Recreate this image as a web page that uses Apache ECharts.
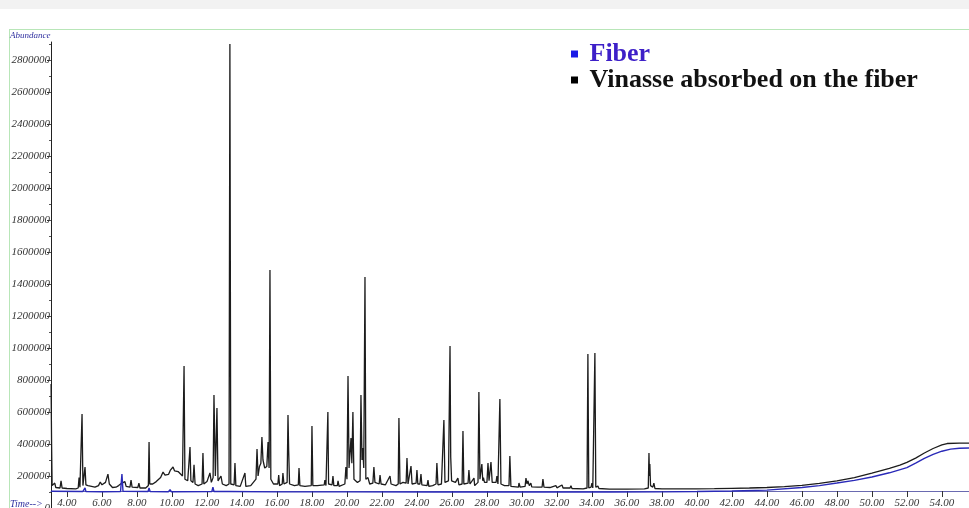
<!DOCTYPE html>
<html>
<head>
<meta charset="utf-8">
<script src="https://cdn.jsdelivr.net/npm/echarts@6/dist/echarts.min.js"></script>
<style>
html,body{margin:0;padding:0;background:#ffffff;}
#top{position:absolute;left:0;top:0;width:969px;height:9px;background:#f2f2f2;}
#chart{position:absolute;left:0;top:0;width:969px;height:508px;}
</style>
</head>
<body>
<div id="top"></div>
<div id="chart"></div>
<script>
// Retention time ticks (min)
const timeTicks = [4,6,8,10,12,14,16,18,20,22,24,26,28,30,32,34,36,38,40,42,44,46,48,50,52,54];
const abundanceTicks = [0,200000,400000,600000,800000,1000000,1200000,1400000,1600000,1800000,2000000,2200000,2400000,2600000,2800000];
const seriesNames = ['Fiber', 'Vinasse absorbed on the fiber'];

// Fiber chromatogram [time, abundance]
const fiber = [
  [3.09,105000],[4.9,103000],[4.98,104000],[5.03,125000],[5.08,103000],[6.0,102000],
  [7.06,103000],[7.14,212000],[7.2,105000],[8.63,103000],[8.69,125000],[8.75,103000],
  [9.8,102000],[9.89,115000],[9.96,102000],[12.28,103000],[12.34,131000],[12.4,103000],
  [13.25,103000],[13.3,112000],[13.36,102000],[16.0,101000],[20.0,101000],[25.0,100000],
  [30.0,100000],[35.0,100000],[38.0,101000],[40.0,103000],[42.0,106000],[44.0,112000],
  [46.0,128000],[47.0,140000],[48.0,156000],[49.0,173000],[50.0,194000],[51.0,220000],
  [52.0,252000],[52.5,280000],[53.0,310000],[53.5,335000],[54.0,355000],[54.5,368000],
  [55.0,373000],[55.55,375000]
];

// Vinasse absorbed on the fiber chromatogram [time, abundance]
const vinasse = [
  [3.09,775000],[3.12,400000],[3.15,140000],[3.25,130000],[3.3,156000],[3.36,128000],
  [3.6,125000],[3.66,170000],[3.72,125000],[4.0,122000],[4.5,120000],[4.64,125000],
  [4.69,190000],[4.74,130000],[4.82,135000],[4.86,587000],[4.91,140000],[4.97,150000],
  [5.03,256000],[5.08,145000],[5.2,140000],[5.4,135000],[5.6,130000],[5.8,140000],
  [5.9,162000],[6.0,145000],[6.2,160000],[6.34,212000],[6.42,150000],[6.6,128000],
  [6.8,130000],[6.95,140000],[7.14,156000],[7.22,145000],[7.31,165000],[7.38,135000],
  [7.6,130000],[7.66,175000],[7.72,130000],[8.05,128000],[8.11,156000],[8.17,125000],
  [8.5,125000],[8.65,140000],[8.69,412000],[8.73,150000],[8.9,150000],[9.1,165000],
  [9.2,175000],[9.35,190000],[9.49,225000],[9.6,205000],[9.8,210000],[9.9,235000],
  [10.06,256000],[10.15,232000],[10.25,240000],[10.35,228000],[10.46,237000],[10.6,200000],
  [10.66,190000],[10.69,887000],[10.74,180000],[10.9,170000],[11.0,175000],[11.03,381000],
  [11.08,170000],[11.2,160000],[11.26,270000],[11.32,150000],[11.5,140000],[11.72,150000],
  [11.77,344000],[11.82,150000],[12.0,165000],[12.17,219000],[12.25,160000],[12.35,190000],
  [12.4,706000],[12.48,200000],[12.57,625000],[12.63,170000],[12.8,200000],[12.88,150000],
  [13.1,140000],[13.26,150000],[13.31,2900000],[13.36,150000],[13.55,145000],[13.6,281000],
  [13.65,140000],[13.9,135000],[14.17,219000],[14.22,135000],[14.5,140000],[14.8,180000],
  [14.86,369000],[14.92,200000],[15.0,260000],[15.08,280000],[15.14,444000],[15.2,300000],
  [15.3,250000],[15.42,260000],[15.49,412000],[15.55,250000],[15.6,1487000],[15.65,180000],
  [15.8,150000],[16.05,150000],[16.1,206000],[16.15,140000],[16.3,150000],[16.34,219000],
  [16.4,150000],[16.58,160000],[16.63,581000],[16.67,356000],[16.72,150000],[17.0,140000],
  [17.22,145000],[17.26,250000],[17.31,140000],[17.6,135000],[17.96,140000],[18.0,512000],
  [18.05,140000],[18.3,140000],[18.7,145000],[18.74,175000],[18.8,140000],[18.87,150000],
  [18.91,600000],[18.95,150000],[19.15,145000],[19.2,200000],[19.25,140000],[19.45,140000],
  [19.49,170000],[19.55,135000],[19.88,150000],[19.94,256000],[20.0,180000],[20.06,825000],
  [20.12,250000],[20.23,437000],[20.28,280000],[20.34,600000],[20.4,180000],[20.6,160000],
  [20.75,170000],[20.8,706000],[20.86,300000],[20.9,375000],[20.96,250000],[21.03,1443000],
  [21.08,180000],[21.2,190000],[21.3,150000],[21.48,155000],[21.54,256000],[21.6,160000],
  [21.84,150000],[21.89,206000],[21.95,150000],[22.2,145000],[22.46,200000],[22.52,150000],
  [22.8,140000],[22.93,150000],[22.97,562000],[23.03,150000],[23.2,160000],[23.38,155000],
  [23.43,312000],[23.49,150000],[23.6,160000],[23.66,262000],[23.72,150000],[23.95,155000],
  [24.0,237000],[24.05,150000],[24.17,150000],[24.23,212000],[24.28,145000],[24.58,140000],
  [24.63,175000],[24.68,135000],[24.9,140000],[25.09,150000],[25.14,281000],[25.2,145000],
  [25.4,150000],[25.49,160000],[25.54,550000],[25.6,160000],[25.8,170000],[25.89,1012000],
  [25.93,318000],[25.98,170000],[26.2,160000],[26.34,187000],[26.4,145000],[26.58,150000],
  [26.63,481000],[26.68,150000],[26.92,155000],[26.97,237000],[27.03,150000],[27.26,187000],
  [27.3,140000],[27.49,160000],[27.54,725000],[27.6,180000],[27.71,275000],[27.76,170000],
  [27.8,190000],[27.86,160000],[28.0,160000],[28.06,281000],[28.12,170000],[28.17,175000],
  [28.23,287000],[28.3,160000],[28.52,160000],[28.57,200000],[28.63,150000],[28.7,160000],
  [28.74,681000],[28.8,150000],[29.0,140000],[29.26,140000],[29.31,325000],[29.37,135000],
  [29.8,130000],[29.83,156000],[29.9,130000],[30.18,135000],[30.23,187000],[30.29,150000],
  [30.34,170000],[30.42,140000],[30.51,156000],[30.56,132000],[30.9,130000],[31.15,130000],
  [31.2,181000],[31.26,130000],[31.6,128000],[31.94,140000],[32.0,126000],[32.29,144000],
  [32.35,125000],[32.75,125000],[32.8,140000],[32.86,122000],[33.5,120000],[33.72,125000],
  [33.77,962000],[33.82,125000],[33.95,130000],[34.0,156000],[34.05,125000],[34.12,125000],
  [34.17,968000],[34.22,130000],[34.34,137000],[34.4,122000],[35.0,118000],[36.0,118000],
  [37.0,120000],[37.22,125000],[37.26,343000],[37.29,200000],[37.31,275000],[37.35,140000],
  [37.48,130000],[37.54,156000],[37.6,122000],[38.0,120000],[39.0,119000],[39.95,120000],
  [40.0,131000],[40.05,120000],[41.0,121000],[42.0,123000],[43.0,125000],[44.0,128000],
  [45.0,134000],[46.0,142000],[47.0,154000],[48.0,169000],[49.0,190000],[50.0,218000],
  [51.0,248000],[51.6,268000],[51.65,280000],[51.7,270000],[52.0,285000],[52.5,312000],
  [53.0,344000],[53.5,372000],[54.0,394000],[54.3,403000],[55.0,405000],[55.55,406000]
];

const chart = echarts.init(document.getElementById('chart'), null, {renderer:'canvas'});
const serifFont = '"Liberation Serif", "DejaVu Serif", serif';
chart.setOption({
  animation: false,
  backgroundColor: 'transparent',
  graphic: [
    {type:'line', shape:{x1:9, y1:29.5, x2:969, y2:29.5}, style:{stroke:'#b8e6b8', lineWidth:1}, silent:true},
    {type:'line', shape:{x1:9.5, y1:29, x2:9.5, y2:508}, style:{stroke:'#b8e6b8', lineWidth:1}, silent:true},
    {type:'text', left:10, top:31, style:{text:'Abundance', font:'italic 9px ' + serifFont, fill:'#3030a0'}},
    {type:'text', left:10, top:499, style:{text:'Time-->', font:'italic 10px ' + serifFont, fill:'#3030a0'}}
  ],
  legend: {
    show: true,
    orient: 'vertical',
    left: 566,
    top: 36,
    itemGap: 0,
    icon: 'rect',
    itemWidth: 7,
    itemHeight: 7,
    formatter: name => ' ' + name,
    textStyle: {fontFamily: serifFont, fontWeight: 'bold', fontSize: 26},
    data: [
      {name: seriesNames[0], itemStyle:{color:'#1a1ae6'}, textStyle:{color:'#3d1fc8'}},
      {name: seriesNames[1], itemStyle:{color:'#000000'}, textStyle:{color:'#111111'}}
    ]
  },
  grid: {left: 51, right: 0, top: 42, bottom: 0, containLabel: false, outerBoundsMode: 'none'},
  xAxis: {
    type: 'value',
    min: 3.086,
    max: 55.55,
    offset: -17,
    axisLine: {show: true, onZero: false, lineStyle: {color: '#6a6ab0', width: 1}},
    axisTick: {show: true, inside: false, length: 6, customValues: timeTicks, lineStyle: {color: '#333'}},
    axisLabel: {
      show: true, customValues: timeTicks, margin: 7,
      formatter: v => v.toFixed(2),
      fontFamily: serifFont, fontStyle: 'italic', fontSize: 11, color: '#333'
    },
    splitLine: {show: false}
  },
  yAxis: {
    type: 'value',
    min: 0,
    max: 2912500,
    axisLine: {show: true, lineStyle: {color: '#222', width: 1}},
    axisTick: {show: true, length: 4, customValues: abundanceTicks, lineStyle: {color: '#333'}},
    minorTick: {show: true, splitNumber: 5, length: 2, lineStyle: {color: '#555'}},
    axisLabel: {
      show: true, customValues: abundanceTicks, margin: 1,
      formatter: v => String(v),
      fontFamily: serifFont, fontStyle: 'italic', fontSize: 11, color: '#333'
    },
    splitLine: {show: false}
  },
  series: [
    {
      name: seriesNames[0], type: 'line', data: fiber, symbol: 'none', z: 4,
      lineStyle: {color: '#2a2ab8', width: 1.4}, itemStyle: {color: '#2a2ab8'}
    },
    {
      name: seriesNames[1], type: 'line', data: vinasse, symbol: 'none', z: 3,
      lineStyle: {color: '#1c1c1c', width: 1.3}, itemStyle: {color: '#1c1c1c'}
    }
  ]
});
</script>
</body>
</html>
